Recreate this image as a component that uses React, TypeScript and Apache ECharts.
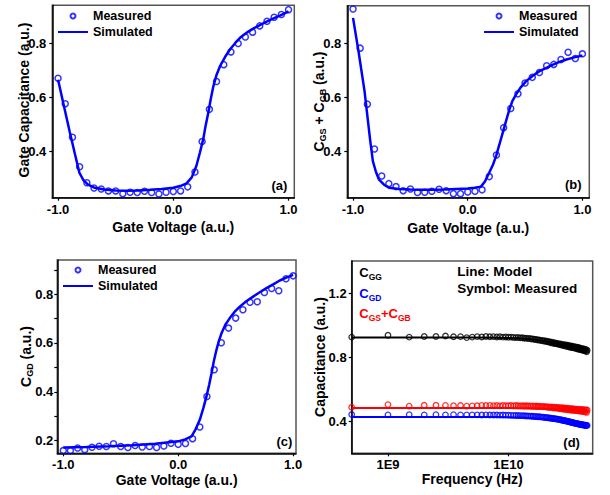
import React, { useEffect, useRef } from 'react';
import * as echarts from 'echarts';

const FONT = '"Liberation Sans", Arial, Helvetica, sans-serif';
const BLUE = '#0000ff';
const RED = '#ff0000';
const BLACK = '#000000';

// ---------- Panels (a)-(c): gate voltage sweeps ----------
const gateVoltage = [
  -1.0, -0.938, -0.875, -0.813, -0.75, -0.688, -0.625, -0.563, -0.5, -0.438,
  -0.375, -0.313, -0.25, -0.188, -0.125, -0.063, 0.0, 0.063, 0.125, 0.188,
  0.25, 0.313, 0.375, 0.438, 0.5, 0.563, 0.625, 0.688, 0.75, 0.813,
  0.875, 0.938, 1.0,
];

const measuredA = [
  0.671, 0.577, 0.453, 0.344, 0.285, 0.266, 0.262, 0.255, 0.255, 0.245,
  0.25, 0.249, 0.254, 0.249, 0.244, 0.25, 0.253, 0.255, 0.27, 0.325,
  0.437, 0.556, 0.659, 0.721, 0.768, 0.799, 0.823, 0.841, 0.864, 0.881,
  0.896, 0.906, 0.924,
];
const simVoltageA = [
  -1.0, -0.95, -0.9, -0.85, -0.815, -0.78, -0.74, -0.69, -0.6, -0.5,
  -0.4, -0.3, -0.2, -0.1, 0.0, 0.06, 0.115, 0.16, 0.2, 0.23,
  0.26, 0.28, 0.304, 0.325, 0.348, 0.375, 0.406, 0.45, 0.493, 0.54,
  0.581, 0.64, 0.697, 0.76, 0.814, 0.87, 0.93, 1.0,
];
const simulatedA = [
  0.665, 0.57, 0.475, 0.385, 0.322, 0.295, 0.278, 0.268, 0.26, 0.257,
  0.256, 0.257, 0.259, 0.262, 0.267, 0.273, 0.283, 0.305, 0.347, 0.395,
  0.446, 0.495, 0.544, 0.594, 0.642, 0.683, 0.716, 0.75, 0.778, 0.802,
  0.821, 0.84, 0.855, 0.869, 0.881, 0.892, 0.903, 0.918,
];

const measuredB = [
  0.928, 0.783, 0.576, 0.41, 0.31, 0.282, 0.271, 0.256, 0.262, 0.249,
  0.25, 0.254, 0.261, 0.256, 0.245, 0.245, 0.251, 0.254, 0.259, 0.308,
  0.388, 0.489, 0.56, 0.614, 0.654, 0.675, 0.693, 0.718, 0.723, 0.741,
  0.768, 0.745, 0.762,
];
const simVoltageB = [
  -1.0, -0.95, -0.9, -0.877, -0.85, -0.827, -0.8, -0.775, -0.73, -0.687,
  -0.6, -0.5, -0.4, -0.3, -0.2, -0.1, 0.0, 0.06, 0.115, 0.15,
  0.188, 0.22, 0.247, 0.275, 0.305, 0.335, 0.363, 0.39, 0.422, 0.46,
  0.51, 0.57, 0.626, 0.69, 0.743, 0.8, 0.86, 0.93, 1.0,
];
const simulatedB = [
  0.895, 0.765, 0.625, 0.54, 0.44, 0.365, 0.325, 0.298, 0.278, 0.267,
  0.262, 0.26, 0.259, 0.259, 0.26, 0.262, 0.264, 0.267, 0.271, 0.29,
  0.323, 0.352, 0.384, 0.425, 0.47, 0.515, 0.556, 0.588, 0.612, 0.637,
  0.661, 0.682, 0.698, 0.711, 0.722, 0.732, 0.741, 0.749, 0.756,
];

const measuredC = [
  0.159, 0.159, 0.17, 0.163, 0.173, 0.177, 0.176, 0.187, 0.176, 0.172,
  0.18, 0.174, 0.176, 0.172, 0.178, 0.189, 0.185, 0.188, 0.208, 0.256,
  0.381, 0.49, 0.601, 0.661, 0.702, 0.736, 0.767, 0.769, 0.807, 0.823,
  0.814, 0.863, 0.875,
];
const simVoltageC = [
  -1.0, -0.8, -0.6, -0.4, -0.2, 0.0, 0.06, 0.116, 0.15, 0.188,
  0.22, 0.246, 0.27, 0.29, 0.31, 0.333, 0.355, 0.377, 0.41, 0.449,
  0.49, 0.536, 0.59, 0.652, 0.71, 0.768, 0.83, 0.884, 0.94, 1.0,
];
const simulatedC = [
  0.172, 0.174, 0.177, 0.181, 0.187, 0.197, 0.205, 0.217, 0.245, 0.285,
  0.335, 0.381, 0.43, 0.476, 0.525, 0.572, 0.61, 0.64, 0.675, 0.702,
  0.727, 0.749, 0.77, 0.79, 0.808, 0.825, 0.841, 0.856, 0.868, 0.879,
];

// ---------- Panel (d): frequency sweep ----------
const freqGHz = [
  0.5, 1, 1.5, 2, 2.5, 3, 3.5, 4, 4.5, 5,
  5.5, 6, 6.5, 7, 7.5, 8, 8.5, 9, 9.5, 10,
  10.5, 11, 11.5, 12, 12.5, 13, 13.5, 14, 14.5, 15,
  15.5, 16, 16.5, 17, 17.5, 18, 18.5, 19, 19.5, 20,
  20.5, 21, 21.5, 22, 22.5, 23, 23.5, 24, 24.5, 25,
  25.5, 26, 26.5, 27, 27.5, 28, 28.5, 29, 29.5, 30,
  30.5, 31, 31.5, 32, 32.5, 33, 33.5, 34, 34.5, 35,
  35.5, 36, 36.5, 37, 37.5, 38, 38.5, 39, 39.5, 40,
  40.5, 41, 41.5, 42, 42.5, 43, 43.5, 44, 44.5, 45,
];
const cggMeasured = [
  0.925, 0.937, 0.925, 0.929, 0.929, 0.932, 0.927, 0.928, 0.922, 0.925,
  0.928, 0.926, 0.929, 0.927, 0.928, 0.926, 0.927, 0.925, 0.926, 0.924,
  0.925, 0.923, 0.922, 0.923, 0.92, 0.921, 0.918, 0.919, 0.916, 0.917,
  0.913, 0.914, 0.91, 0.911, 0.907, 0.908, 0.904, 0.905, 0.9, 0.902,
  0.897, 0.899, 0.894, 0.896, 0.89, 0.893, 0.887, 0.89, 0.884, 0.887,
  0.881, 0.884, 0.878, 0.882, 0.875, 0.88, 0.873, 0.878, 0.869, 0.876,
  0.867, 0.874, 0.865, 0.872, 0.862, 0.87, 0.86, 0.868, 0.858, 0.866,
  0.856, 0.864, 0.853, 0.862, 0.851, 0.86, 0.849, 0.858, 0.847, 0.855,
  0.845, 0.853, 0.843, 0.851, 0.841, 0.849, 0.839, 0.847, 0.834, 0.843,
];
const cgdMeasured = [
  0.442, 0.44, 0.441, 0.44, 0.441, 0.44, 0.441, 0.44, 0.44, 0.44,
  0.44, 0.439, 0.44, 0.439, 0.439, 0.439, 0.438, 0.439, 0.438, 0.438,
  0.437, 0.437, 0.436, 0.436, 0.435, 0.435, 0.434, 0.433, 0.433, 0.432,
  0.431, 0.431, 0.43, 0.429, 0.428, 0.428, 0.427, 0.426, 0.425, 0.424,
  0.423, 0.422, 0.421, 0.42, 0.419, 0.418, 0.417, 0.416, 0.415, 0.414,
  0.413, 0.412, 0.41, 0.409, 0.408, 0.407, 0.405, 0.404, 0.403, 0.402,
  0.4, 0.399, 0.398, 0.397, 0.395, 0.394, 0.393, 0.392, 0.39, 0.389,
  0.388, 0.387, 0.386, 0.385, 0.384, 0.383, 0.382, 0.381, 0.38, 0.379,
  0.379, 0.378, 0.377, 0.377, 0.376, 0.375, 0.375, 0.374, 0.373, 0.374,
];
const cgsgbMeasured = [
  0.487, 0.504, 0.494, 0.5, 0.5, 0.499, 0.497, 0.498, 0.494, 0.496,
  0.497, 0.499, 0.498, 0.499, 0.497, 0.498, 0.496, 0.498, 0.497, 0.497,
  0.498, 0.496, 0.498, 0.497, 0.496, 0.497, 0.495, 0.497, 0.495, 0.496,
  0.494, 0.496, 0.493, 0.495, 0.492, 0.494, 0.491, 0.493, 0.49, 0.492,
  0.488, 0.491, 0.486, 0.49, 0.485, 0.489, 0.483, 0.488, 0.482, 0.487,
  0.48, 0.486, 0.478, 0.485, 0.477, 0.484, 0.475, 0.483, 0.474, 0.482,
  0.472, 0.481, 0.471, 0.48, 0.47, 0.479, 0.469, 0.478, 0.468, 0.477,
  0.467, 0.476, 0.466, 0.475, 0.465, 0.474, 0.464, 0.474, 0.463, 0.473,
  0.462, 0.472, 0.461, 0.472, 0.46, 0.471, 0.459, 0.47, 0.455, 0.47,
];
const modelFreqGHz = [0.5, 1, 2, 5, 8, 10, 12, 15, 20, 25, 30, 35, 40, 45];
const cggModel = [0.922, 0.922, 0.922, 0.922, 0.921, 0.92, 0.918, 0.914, 0.9, 0.885, 0.872, 0.86, 0.849, 0.838];
const cgdModel = [0.427, 0.427, 0.427, 0.427, 0.426, 0.425, 0.423, 0.42, 0.413, 0.405, 0.397, 0.389, 0.382, 0.375];
const cgsgbModel = [0.482, 0.482, 0.482, 0.482, 0.482, 0.482, 0.481, 0.48, 0.478, 0.475, 0.472, 0.469, 0.466, 0.463];

// ---------- Tick values ----------
const voltageTicks = [-1, 0, 1];
const capTicksAB = [0.4, 0.6, 0.8];
const capLabelsC = [0.2, 0.4, 0.6, 0.8];
const capTickMarksC = [0.2, 0.3, 0.4, 0.5, 0.6, 0.7, 0.8, 0.9];
const capTicksD = [0.4, 0.8, 1.2];

const zip = (xs: number[], ys: number[]) => xs.map((x, i) => [x, ys[i]]);
const ghz = (xs: number[], ys: number[]) => xs.map((x, i) => [x * 1e9, ys[i]]);

const labelStyle = { fontSize: 13, fontWeight: 'bold', color: BLACK, fontFamily: FONT, lineHeight: 15 };
const nameStyle = { fontSize: 14, fontWeight: 'bold', color: BLACK, fontFamily: FONT, lineHeight: 18 };
const axisLine = { show: true, onZero: false, lineStyle: { color: BLACK, width: 1.5 } };

function vAxis(grid: number, min: number, max: number, labels: number[], ticks: number[], margin: number, name: string, nameGap: number) {
  return {
    type: 'value', gridIndex: grid, min, max,
    axisLine,
    axisTick: { show: true, inside: false, length: 3, customValues: ticks, lineStyle: { color: BLACK, width: 1.2 } },
    axisLabel: { ...labelStyle, customValues: labels, margin, formatter: (v: number) => v.toFixed(1) },
    splitLine: { show: false },
    name, nameLocation: 'middle', nameGap, nameMoveOverlap: false, nameTextStyle: nameStyle,
  };
}

function grid(left: number, top: number, width: number, height: number) {
  return { left, top, width, height, show: true, borderColor: '#555', borderWidth: 1.5, backgroundColor: 'transparent', containLabel: false, outerBoundsMode: 'none' };
}

const measuredStyle = { color: 'transparent', borderColor: BLUE, borderWidth: 1.5 };

const LINE_ICON = 'path://M0,0H15V1H0Z';

function legend(left: number, top: number) {
  return {
    orient: 'vertical', left, top, padding: 0, itemWidth: 30, itemHeight: 5, itemGap: 0,
    selectedMode: false,
    data: [
      { name: 'Measured' },
      { name: 'Simulated', icon: LINE_ICON, itemStyle: { color: BLUE, borderWidth: 0 } },
    ],
    textStyle: { fontSize: 12.5, fontWeight: 'bold', color: BLACK, fontFamily: FONT, lineHeight: 16 },
  };
}

function txt(x: number, y: number, text: string, size: number, color = BLACK, rich?: any) {
  return {
    type: 'text', x, y, silent: true,
    style: {
      text, fill: color, fontSize: size, fontWeight: 'bold', fontFamily: FONT,
      align: 'left', verticalAlign: 'middle', textAlign: 'left', textVerticalAlign: 'middle',
      ...(rich ? { rich } : {}),
    },
  };
}

const nameRich = {
  m: { fontSize: 14, fontWeight: 'bold', fontFamily: FONT, fill: BLACK, color: BLACK, lineHeight: 18 },
  s: { fontSize: 9, fontWeight: 'bold', fontFamily: FONT, fill: BLACK, color: BLACK, lineHeight: 10, verticalAlign: 'bottom' },
};

// rotated y-axis title drawn as graphic text
function yTitle(x: number, y: number, text: string) {
  return {
    type: 'text', x, y, rotation: Math.PI / 2, silent: true,
    style: {
      text, fill: BLACK, fontSize: 14, fontWeight: 'bold', fontFamily: FONT,
      align: 'center', verticalAlign: 'middle', textAlign: 'center', textVerticalAlign: 'middle',
      rich: nameRich,
    },
  };
}

function subRich(color: string) {
  return {
    c: { fontSize: 13, fontWeight: 'bold', fontFamily: FONT, fill: color, color, lineHeight: 17 },
    s: { fontSize: 8.5, fontWeight: 'bold', fontFamily: FONT, fill: color, color, lineHeight: 10, verticalAlign: 'bottom' },
  };
}

function buildOption() {
  return {
    animation: false,
    backgroundColor: '#ffffff',
    grid: [
      grid(52.3, 5.3, 242, 192.4),
      grid(347.3, 5.7, 242, 192),
      grid(57.3, 260, 238.7, 193.3),
      grid(351.7, 261, 241, 192.3),
    ],
    xAxis: [
      vAxis(0, -1.05, 1.05, voltageTicks, voltageTicks, 4, 'Gate Voltage (a.u.)', 20),
      vAxis(1, -1.05, 1.06, voltageTicks, voltageTicks, 4, 'Gate Voltage (a.u.)', 21),
      vAxis(2, -1.052, 1.025, voltageTicks, voltageTicks, 4, 'Gate Voltage (a.u.)', 18),
      {
        type: 'log', gridIndex: 3, min: 5e8, max: 5e10, logBase: 10,
        axisLine,
        axisTick: { show: true, inside: false, length: 3, lineStyle: { color: BLACK, width: 1.2 } },
        axisLabel: {
          ...labelStyle, margin: 4, showMinLabel: false, showMaxLabel: false,
          formatter: (v: number) => '1E' + Math.round(Math.log10(v)),
        },
        minorTick: { show: false },
        splitLine: { show: false },
        name: 'Frequency (Hz)', nameLocation: 'middle', nameGap: 17, nameMoveOverlap: false, nameTextStyle: nameStyle,
      },
    ],
    yAxis: [
      vAxis(0, 0.23, 0.94, capTicksAB, capTicksAB, 6, '', 20),
      vAxis(1, 0.23, 0.94, capTicksAB, capTicksAB, 6, '', 20),
      vAxis(2, 0.148, 0.94, capLabelsC, capTickMarksC, 4, '', 20),
      vAxis(3, 0.2, 1.4, capTicksD, capTicksD, 5, '', 20),
    ],
    legend: [legend(58, 8), legend(484, 8), legend(63, 262)],
    graphic: [
      yTitle(23.5, 100, '{m|Gate Capacitance (a.u.)}'),
      yTitle(318.5, 101.5, '{m|C}{s|GS}{m| + C}{s|GB}{m| (a.u.)}'),
      yTitle(25.5, 356.5, '{m|C}{s|GD}{m| (a.u.)}'),
      yTitle(320, 357, '{m|Capacitance (a.u.)}'),
      txt(271.5, 185.7, '(a)', 13),
      txt(565, 184.7, '(b)', 13),
      txt(276.5, 441.7, '(c)', 13),
      txt(563.3, 442.3, '(d)', 13),
      txt(359.3, 272.8, '{c|C}{s|GG}', 13, BLACK, subRich(BLACK)),
      txt(359.3, 293.5, '{c|C}{s|GD}', 13, BLUE, subRich(BLUE)),
      txt(359.3, 313.8, '{c|C}{s|GS}{c|+C}{s|GB}', 13, RED, subRich(RED)),
      txt(457.3, 271.7, 'Line: Model', 13.5),
      txt(457.3, 288.3, 'Symbol: Measured', 13.5),
    ],
    series: [
      { name: 'Measured', type: 'scatter', xAxisIndex: 0, yAxisIndex: 0, data: zip(gateVoltage, measuredA), symbol: 'circle', symbolSize: 6, itemStyle: measuredStyle },
      { name: 'Simulated', type: 'line', xAxisIndex: 0, yAxisIndex: 0, data: zip(simVoltageA, simulatedA), symbol: 'none', lineStyle: { color: BLUE, width: 2.5 }, itemStyle: { color: BLUE } },
      { name: 'Measured', type: 'scatter', xAxisIndex: 1, yAxisIndex: 1, data: zip(gateVoltage, measuredB), symbol: 'circle', symbolSize: 6, itemStyle: measuredStyle },
      { name: 'Simulated', type: 'line', xAxisIndex: 1, yAxisIndex: 1, data: zip(simVoltageB, simulatedB), symbol: 'none', lineStyle: { color: BLUE, width: 2.5 }, itemStyle: { color: BLUE } },
      { name: 'Measured', type: 'scatter', xAxisIndex: 2, yAxisIndex: 2, data: zip(gateVoltage, measuredC), symbol: 'circle', symbolSize: 6, itemStyle: measuredStyle },
      { name: 'Simulated', type: 'line', xAxisIndex: 2, yAxisIndex: 2, data: zip(simVoltageC, simulatedC), symbol: 'none', lineStyle: { color: BLUE, width: 2.5 }, itemStyle: { color: BLUE } },

      { name: 'CGG model', type: 'line', xAxisIndex: 3, yAxisIndex: 3, data: ghz(modelFreqGHz, cggModel), symbol: 'none', lineStyle: { color: BLACK, width: 2 } },
      { name: 'CGSGB model', type: 'line', xAxisIndex: 3, yAxisIndex: 3, data: ghz(modelFreqGHz, cgsgbModel), symbol: 'none', lineStyle: { color: RED, width: 2 } },
      { name: 'CGD model', type: 'line', xAxisIndex: 3, yAxisIndex: 3, data: ghz(modelFreqGHz, cgdModel), symbol: 'none', lineStyle: { color: BLUE, width: 2 } },
      { name: 'CGG measured', type: 'scatter', xAxisIndex: 3, yAxisIndex: 3, data: ghz(freqGHz, cggMeasured), symbol: 'circle', symbolSize: 5.5, itemStyle: { color: 'transparent', borderColor: BLACK, borderWidth: 1.3 } },
      { name: 'CGSGB measured', type: 'scatter', xAxisIndex: 3, yAxisIndex: 3, data: ghz(freqGHz, cgsgbMeasured), symbol: 'circle', symbolSize: 5.5, itemStyle: { color: 'transparent', borderColor: RED, borderWidth: 1.3 } },
      { name: 'CGD measured', type: 'scatter', xAxisIndex: 3, yAxisIndex: 3, data: ghz(freqGHz, cgdMeasured), symbol: 'circle', symbolSize: 5.5, itemStyle: { color: 'transparent', borderColor: BLUE, borderWidth: 1.3 } },
    ],
  };
}

export default function App() {
  const ref = useRef<HTMLDivElement>(null);
  useEffect(() => {
    if (!ref.current) return;
    const chart = echarts.init(ref.current, undefined, { renderer: 'svg' });
    chart.setOption(buildOption() as any);
    return () => chart.dispose();
  }, []);
  return (
    <div
      ref={ref}
      style={{ position: 'fixed', left: 0, top: 0, width: 610, height: 495, background: '#fff' }}
    />
  );
}
